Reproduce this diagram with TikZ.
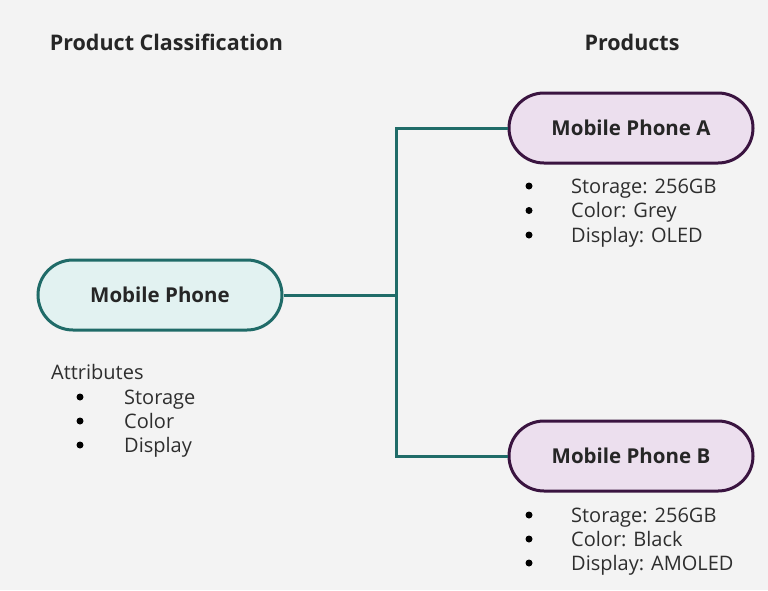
\documentclass[tikz,border=0pt]{standalone}
\usepackage{fontspec}
\setmainfont{Open Sans}
\usepackage{tikz}
\usetikzlibrary{positioning,calc}

\definecolor{bgcol}{HTML}{F3F3F3}
\definecolor{tealline}{HTML}{1F6B68}
\definecolor{tealfill}{HTML}{E2F2F1}
\definecolor{plumline}{HTML}{3A1440}
\definecolor{plumfill}{HTML}{ECDFEE}
\definecolor{txtcol}{HTML}{2E2E2E}

\tikzset{
	classbox/.style = {draw=tealline, fill=tealfill, line width=3pt, rounded corners=35pt,
		minimum width=244pt, minimum height=70pt, inner sep=0pt,
		font=\fontsize{20.5}{24}\selectfont\bfseries, text=black!85},
	prodbox/.style = {classbox, draw=plumline, fill=plumfill},
	title/.style = {font=\fontsize{21.5}{25}\selectfont\bfseries, text=black!85, anchor=base},
	item/.style = {font=\fontsize{20}{24}\selectfont, text=txtcol, anchor=base west, inner sep=0pt},
	bul/.style = {circle, fill=black, inner sep=0pt, minimum size=7pt},
	link/.style = {draw=tealline, line width=3pt}
}

\begin{document}
\begin{tikzpicture}[x=1pt,y=-1pt]
	\fill[bgcol] (0,0) rectangle (768,590);
	\useasboundingbox (0,0) rectangle (768,590);

	% headings
	\node[title] (hclass) at (166.5,50) {Product Classification};
	\node[title] (hprod) at (632,50) {Products};

	% boxes
	\node[classbox] (phone) at (160,295) {Mobile Phone};
	\node[prodbox] (phoneA) at (631,128) {Mobile Phone A};
	\node[prodbox] (phoneB) at (631,456) {Mobile Phone B};

	% tree
	\coordinate (split) at (396,295);
	\draw[link] (phone.east) -- (split);
	\draw[link] (phoneA.west) -| (split) |- (phoneB.west);

	% attributes
	\node[item] (attr) at (51,379) {Attributes};
	\foreach \t [count=\i] in {Storage, Color, Display} {
		\node[bul] (ab\i) at (80,{397+24*(\i-1)}) {};
		\node[item] (at\i) at (124,{404+24*(\i-1)}) {\t};
	}

	% product A
	\foreach \t [count=\i] in {Storage: 256GB, Color: Grey, Display: OLED} {
		\node[bul] (pab\i) at (529,{186+24.5*(\i-1)}) {};
		\node[item] (pat\i) at (571,{193+24.5*(\i-1)}) {\t};
	}

	% product B
	\foreach \t [count=\i] in {Storage: 256GB, Color: Black, Display: AMOLED} {
		\node[bul] (pbb\i) at (529,{515+24*(\i-1)}) {};
		\node[item] (pbt\i) at (571,{522+24*(\i-1)}) {\t};
	}
\end{tikzpicture}
\end{document}
